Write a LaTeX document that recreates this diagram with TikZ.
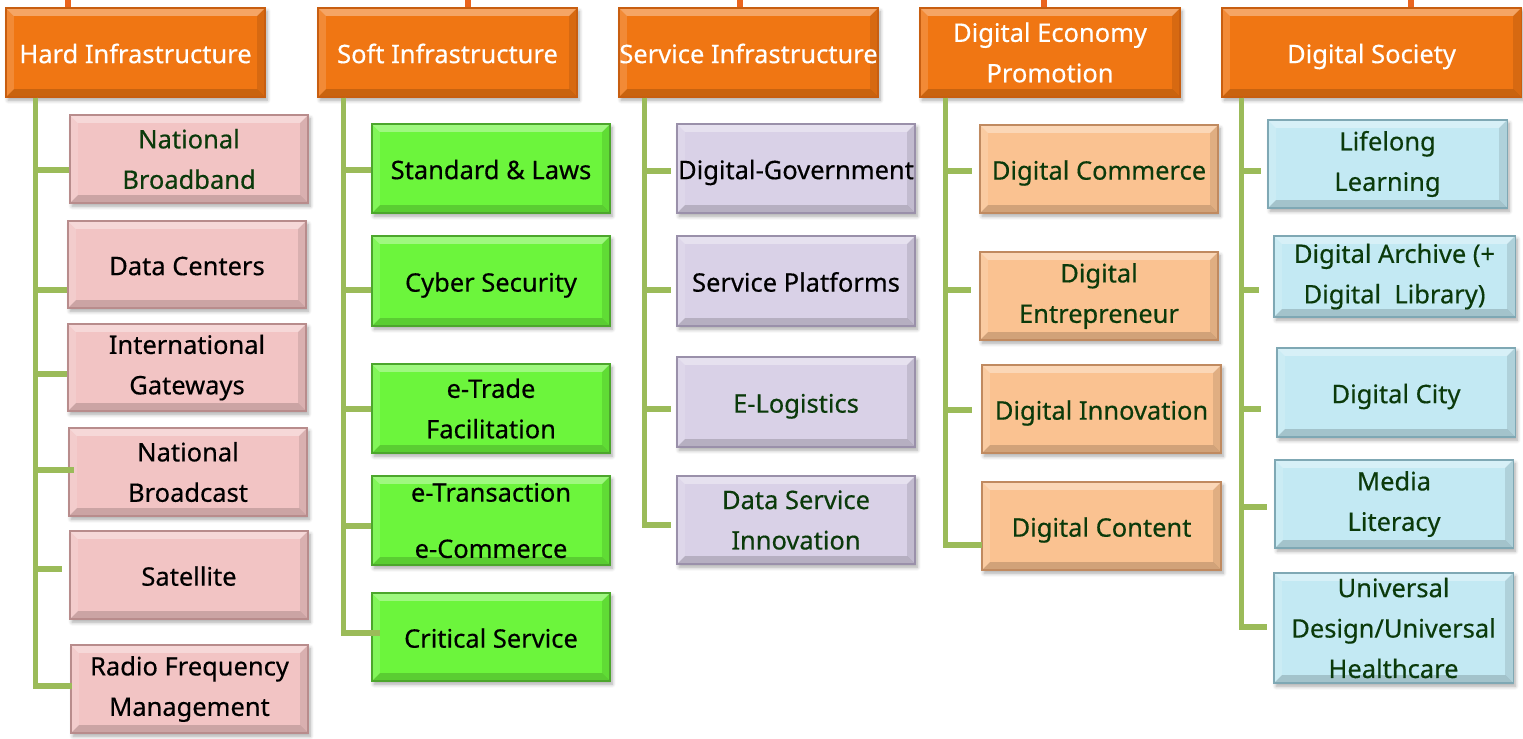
\documentclass[tikz,border=0pt]{standalone}
\usepackage{fontspec}
\setmainfont{Noto Sans}[FakeBold=0.4]
\usetikzlibrary{calc,shadows.blur}
\definecolor{hdrc}{HTML}{F07613}
\definecolor{hdrd}{HTML}{C85E10}
\definecolor{topc}{HTML}{EA641E}
\definecolor{pinkc}{HTML}{F2C4C4}
\definecolor{pinkd}{HTML}{B88C8C}
\definecolor{greenc}{HTML}{6CF53C}
\definecolor{greend}{HTML}{4CA62C}
\definecolor{lavc}{HTML}{D9D1E7}
\definecolor{lavd}{HTML}{9A90AA}
\definecolor{peachc}{HTML}{FAC291}
\definecolor{peachd}{HTML}{C08A60}
\definecolor{bluec}{HTML}{C3E9F3}
\definecolor{blued}{HTML}{7FA8B4}
\definecolor{treec}{HTML}{9BBB59}
\definecolor{dgreen}{HTML}{0B3A0B}
\tikzset{
  sz/.style 2 args={minimum width=#1*0.02cm, minimum height=#2*0.02cm},
  bevel/.style={path picture={
    \fill[white,opacity=0.35] (path picture bounding box.north west) -- (path picture bounding box.north east)
      -- ([xshift=-4.5pt,yshift=-4.5pt]path picture bounding box.north east) -- ([xshift=4.5pt,yshift=-4.5pt]path picture bounding box.north west) -- cycle;
    \fill[white,opacity=0.15] (path picture bounding box.north west) -- (path picture bounding box.south west)
      -- ([xshift=4.5pt,yshift=4.5pt]path picture bounding box.south west) -- ([xshift=4.5pt,yshift=-4.5pt]path picture bounding box.north west) -- cycle;
    \fill[black,opacity=0.16] (path picture bounding box.south west) -- (path picture bounding box.south east)
      -- ([xshift=-4.5pt,yshift=4.5pt]path picture bounding box.south east) -- ([xshift=4.5pt,yshift=4.5pt]path picture bounding box.south west) -- cycle;
    \fill[black,opacity=0.10] (path picture bounding box.north east) -- (path picture bounding box.south east)
      -- ([xshift=-4.5pt,yshift=4.5pt]path picture bounding box.south east) -- ([xshift=-4.5pt,yshift=-4.5pt]path picture bounding box.north east) -- cycle;
  }},
  basebox/.style={rectangle, inner sep=0pt, align=center, line width=0.6pt, bevel,
    font=\fontsize{14.5}{23}\selectfont,
    blur shadow={shadow xshift=1.2pt, shadow yshift=-1.8pt, shadow opacity=35, shadow blur steps=6}},
  one/.style={text height=12.5pt, text depth=0.4pt},
  head/.style={basebox, fill=hdrc, draw=hdrd, text=white},
  hardbox/.style={basebox, fill=pinkc, draw=pinkd, text=black},
  softbox/.style={basebox, fill=greenc, draw=greend, text=black},
  servbox/.style={basebox, fill=lavc, draw=lavd, text=black},
  econbox/.style={basebox, fill=peachc, draw=peachd, text=dgreen},
  socbox/.style={basebox, fill=bluec, draw=blued, text=dgreen},
  dg/.style={text=dgreen},
  tree/.style={draw=treec, line width=3pt, line join=miter},
  topline/.style={draw=topc, line width=3pt}
}
\begin{document}
\begin{tikzpicture}[x=0.02cm,y=-0.02cm]
\useasboundingbox (0,0) rectangle (1523,738);
% headers
\node[head, one, sz={259}{89}] (h1) at (135.5,52.5) {Hard Infrastructure};
\node[head, one, sz={259}{89}] (h2) at (447.5,52.5) {Soft Infrastructure};
\node[head, one, sz={259}{89}] (h3) at (748.5,52.5) {Service Infrastructure};
\node[head, sz={260}{89}] (h4) at (1050,52.5) {Digital Economy\\Promotion};
\node[head, one, sz={299}{89}] (h5) at (1371.5,52.5) {Digital Society};
% hard
\node[hardbox, dg, sz={238}{88}] (a1) at (189,159) {National\\Broadband};
\node[hardbox, one, sz={238}{87}] (a2) at (187,264.5) {Data Centers};
\node[hardbox, sz={238}{87}] (a3) at (187,367.5) {International\\Gateways};
\node[hardbox, sz={238}{88}] (a4) at (188,472) {National\\Broadcast};
\node[hardbox, one, sz={238}{88}] (a5) at (189,575) {Satellite};
\node[hardbox, sz={237}{88}] (a6) at (189.5,689) {Radio Frequency\\Management};
% soft
\node[softbox, one, sz={238}{89}] (b1) at (491,168.5) {Standard \& Laws};
\node[softbox, one, sz={238}{90}] (b2) at (491,281) {Cyber Security};
\node[softbox, sz={238}{89}] (b3) at (491,408.5) {e-Trade\\Facilitation};
\node[softbox, sz={238}{89}] (b4) at (491,520.5) {e-Transaction\\[9pt]e-Commerce};
\node[softbox, one, sz={238}{88}] (b5) at (491,637) {Critical Service};
% service
\node[servbox, one, sz={238}{89}] (c1) at (796,168.5) {Digital-Government};
\node[servbox, one, sz={238}{90}] (c2) at (796,281) {Service Platforms};
\node[servbox, one, dg, sz={238}{90}] (c3) at (796,402) {E-Logistics};
\node[servbox, dg, sz={238}{88}] (c4) at (796,520) {Data Service\\Innovation};
% economy
\node[econbox, one, sz={238}{88}] (d1) at (1099,169) {Digital Commerce};
\node[econbox, sz={238}{88}] (d2) at (1099,296) {Digital\\Entrepreneur};
\node[econbox, one, sz={239}{88}] (d3) at (1101.5,409) {Digital Innovation};
\node[econbox, one, sz={239}{88}] (d4) at (1101.5,526) {Digital Content};
% society
\node[socbox, sz={239}{88}] (e1) at (1387.5,164) {Lifelong\\Learning};
\node[socbox, sz={241}{81}] (e2) at (1394.5,276.5) {Digital Archive (+\\Digital\ \ Library)};
\node[socbox, one, sz={238}{89}] (e3) at (1396,392.5) {Digital City};
\node[socbox, sz={238}{88}] (e4) at (1394,504) {Media\\Literacy};
\node[socbox, sz={239}{110}] (e5) at (1393.5,628) {Universal\\Design/Universal\\Healthcare};
% top connectors (cut off at the top edge)
\coordinate (p1) at (68,0);
\coordinate (p2) at (468,0);
\coordinate (p3) at (740,0);
\coordinate (p4) at (1044,0);
\coordinate (p5) at (1411,0);
\draw[topline] (p1) -- (p1 |- h1.north);
\draw[topline] (p2) -- (p2 |- h2.north);
\draw[topline] (p3) -- (p3 |- h3.north);
\draw[topline] (p4) -- (p4 |- h4.north);
\draw[topline] (p5) -- (p5 |- h5.north);
% tree roots
\coordinate (t1) at ($(h1.south west)+(30,0)$);
\coordinate (t2) at ($(h2.south west)+(26,0)$);
\coordinate (t3) at ($(h3.south west)+(26,0)$);
\coordinate (t4) at ($(h4.south west)+(26,0)$);
\coordinate (t5) at ($(h5.south west)+(20,0)$);
% hard branches
\draw[tree] (t1) |- ($(a1.west)+(0,11)$);
\draw[tree] (t1) |- ($(a2.west)+(0,25.5)$);
\draw[tree] (t1) |- ($(a3.west)+(0,6.5)$);
\draw[tree] (t1) |- ($(a4.west)+(6,-2)$);
\draw[tree] (t1) |- ($(a5.west)+(-7,-6)$);
\draw[tree] (t1) |- ($(a6.west)+(2,-3)$);
% soft branches
\draw[tree] (t2) |- ($(b1.west)+(0,1.5)$);
\draw[tree] (t2) |- ($(b2.west)+(0,9)$);
\draw[tree] (t2) |- ($(b3.west)+(0,0.5)$);
\draw[tree] (t2) |- ($(b4.west)+(0,5.5)$);
\draw[tree] (t2) |- ($(b5.west)+(9,-4)$);
% service branches
\draw[tree] (t3) |- ($(c1.west)+(-5,2.5)$);
\draw[tree] (t3) |- ($(c2.west)+(-5,9)$);
\draw[tree] (t3) |- ($(c3.west)+(-5,7)$);
\draw[tree] (t3) |- ($(c4.west)+(-5,5)$);
% economy branches
\draw[tree] (t4) |- ($(d1.west)+(-7,2)$);
\draw[tree] (t4) |- ($(d2.west)+(-8,-6)$);
\draw[tree] (t4) |- ($(d3.west)+(-9,1)$);
\draw[tree] (t4) |- ($(d4.west)+(1,19)$);
% society branches
\draw[tree] (t5) |- ($(e1.west)+(-6,7)$);
\draw[tree] (t5) |- ($(e2.west)+(-14,13.5)$);
\draw[tree] (t5) |- ($(e3.west)+(-15,16.5)$);
\draw[tree] (t5) |- ($(e4.west)+(-7,3)$);
\draw[tree] (t5) |- ($(e5.west)+(-6,-1)$);
\end{tikzpicture}
\end{document}
